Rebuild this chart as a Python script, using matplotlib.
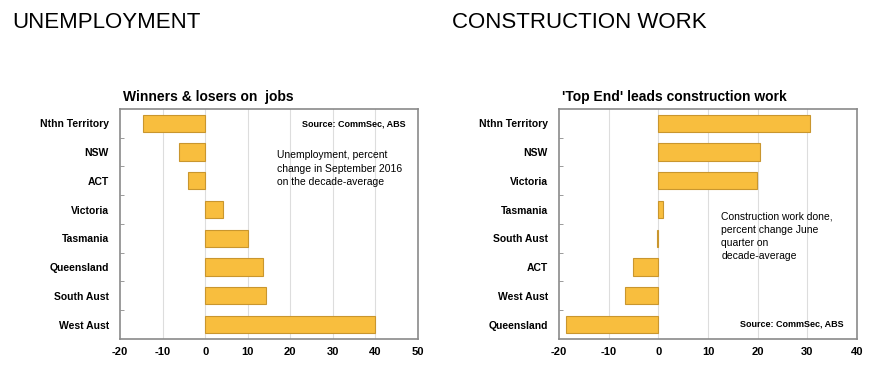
import numpy as np
import matplotlib.pyplot as plt

# left panel: unemployment, % change Sep 2016 on decade average
unemp_states = ["Nthn Territory", "NSW", "ACT", "Victoria", "Tasmania",
                "Queensland", "South Aust", "West Aust"]
unemp_values = [-14.5, -6.1, -4.1, 4.2, 10.0, 13.5, 14.4, 40.0]

# right panel: construction work done, % change June quarter on decade average
constr_states = ["Nthn Territory", "NSW", "Victoria", "Tasmania", "South Aust",
                 "ACT", "West Aust", "Queensland"]
constr_values = [30.6, 20.5, 19.9, 1.0, -0.2, -5.2, -6.8, -18.6]

plt.rcParams["font.family"] = ["Liberation Sans", "DejaVu Sans"]

BAR = "#F8BE3E"
EDGE = "#C9962E"
FRAME = "#8A8A8A"


def panel(ax, states, values, xlim, xticks, title):
    y = np.arange(len(states))
    ax.barh(y, values, height=0.6, color=BAR, edgecolor=EDGE, linewidth=0.8, zorder=3)
    ax.set_ylim(len(states) - 0.5, -0.5)
    ax.set_xlim(*xlim)
    ax.set_xticks(xticks)
    ax.set_xticklabels([str(t) for t in xticks], fontsize=8, fontweight="bold")
    ax.set_yticks(y)
    ax.set_yticklabels(states, fontsize=7.5, fontweight="bold")
    ax.tick_params(axis="y", length=0, pad=8)
    ax.tick_params(axis="x", length=0, pad=6)
    ax.set_yticks(np.arange(0.5, len(states) - 0.5, 1), minor=True)
    ax.tick_params(axis="y", which="minor", direction="in", length=3, color=FRAME)
    for t in xticks:
        if xlim[0] < t < xlim[1]:
            ax.axvline(t, color="#DDDDDD", linewidth=0.8, zorder=1)
    for s in ax.spines.values():
        s.set_color(FRAME)
        s.set_linewidth(1.2)
    ax.set_title(title, fontsize=10, fontweight="bold", loc="left", x=0.01, pad=6)


fig = plt.figure(figsize=(8.93, 3.73), dpi=100)

ax1 = fig.add_axes([0.1344, 0.0912, 0.3337, 0.6166])
panel(ax1, unemp_states, unemp_values, (-20, 50), [-20, -10, 0, 10, 20, 30, 40, 50],
      "Winners & losers on  jobs")
ax1.text(0.957, 0.955, "Source: CommSec, ABS", transform=ax1.transAxes,
         fontsize=6.5, fontweight="bold", ha="right", va="top")
ax1.text(0.527, 0.82, "Unemployment, percent\nchange in September 2016\non the decade-average",
         transform=ax1.transAxes, fontsize=7.5, ha="left", va="top", linespacing=1.4)

ax2 = fig.add_axes([0.626, 0.0912, 0.3337, 0.6166])
panel(ax2, constr_states, constr_values, (-20, 40), [-20, -10, 0, 10, 20, 30, 40],
      "'Top End' leads construction work")
ax2.text(0.955, 0.045, "Source: CommSec, ABS", transform=ax2.transAxes,
         fontsize=6.5, fontweight="bold", ha="right", va="bottom")
ax2.text(0.545, 0.555, "Construction work done,\npercent change June\nquarter on\ndecade-average",
         transform=ax2.transAxes, fontsize=7.5, ha="left", va="top", linespacing=1.4)

fig.text(12 / 893, 1 - 23 / 373, "UNEMPLOYMENT", fontsize=16, va="center", ha="left")
fig.text(452 / 893, 1 - 23 / 373, "CONSTRUCTION WORK", fontsize=16, va="center", ha="left")

fig.savefig("out.png", dpi=100)
